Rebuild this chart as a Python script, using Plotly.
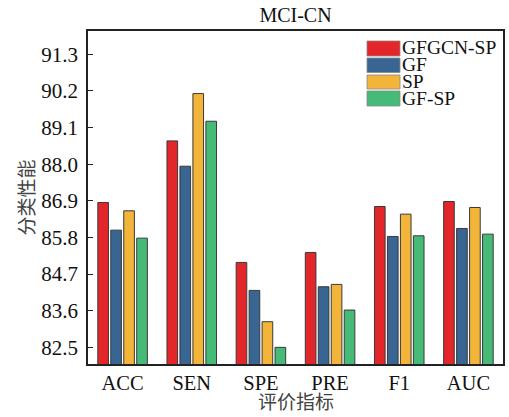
import plotly.graph_objects as go

categories = ["ACC", "SEN", "SPE", "PRE", "F1", "AUC"]
series_names = ["GFGCN-SP", "GF", "SP", "GF-SP"]
gfgcn_sp = [86.85, 88.70, 85.05, 85.35, 86.73, 86.88]
gf = [86.02, 87.94, 84.21, 84.32, 85.83, 86.07]
sp = [86.60, 90.12, 83.27, 84.39, 86.50, 86.70]
gf_sp = [85.78, 89.29, 82.50, 83.62, 85.85, 85.90]
y_ticks = [82.5, 83.6, 84.7, 85.8, 86.9, 88.0, 89.1, 90.2, 91.3]
y_tick_labels = ["82.5", "83.6", "84.7", "85.8", "86.9", "88.0", "89.1", "90.2", "91.3"]
colors = ["#E3262A", "#386592", "#F2B53A", "#46BA77"]

all_series = [gfgcn_sp, gf, sp, gf_sp]

SERIF = "Liberation Serif, Times New Roman, serif"
CJK = "Liberation Serif, Noto Sans CJK SC, serif"

fig = go.Figure()
for name, vals, col in zip(series_names, all_series, colors):
    fig.add_trace(go.Bar(
        x=categories, y=vals, name=name,
        marker=dict(color=col, line=dict(color="#3a3a3a", width=1)),
        showlegend=False,
    ))

L, R, T, B = 88, 6, 31, 53
W, H = 509, 417
pw, ph = W - L - R, H - T - B

def px_to_paper(x, y):
    return (x - L) / pw, (H - B - y) / ph

# manual legend
rows = [(41, 56), (58, 72.5), (75, 89), (91, 106)]
for (y0, y1), name, col in zip(rows, series_names, colors):
    ax0, ay0 = px_to_paper(367, y1)
    ax1, ay1 = px_to_paper(400, y0)
    fig.add_shape(type="rect", xref="paper", yref="paper",
                  x0=ax0, x1=ax1, y0=ay0, y1=ay1,
                  fillcolor=col, line=dict(color="#888888", width=0.8))
    tx, ty = px_to_paper(400.5, (y0 + y1) / 2 - 0.5)
    fig.add_annotation(xref="paper", yref="paper", x=tx, y=ty,
                       text=name, showarrow=False, xanchor="left", yanchor="middle",
                       borderpad=0,
                       font=dict(family=SERIF, size=19.5, color="#111111"))

# axis titles as annotations for precise placement
xt, yt = px_to_paper(L + pw / 2, 403)
fig.add_annotation(xref="paper", yref="paper", x=xt, y=yt, text="评价指标",
                   showarrow=False, xanchor="center", yanchor="middle",
                   font=dict(family=CJK, size=19, color="#444444"))
xt, yt = px_to_paper(27, T + ph / 2)
fig.add_annotation(xref="paper", yref="paper", x=xt, y=yt, text="分类性能",
                   showarrow=False, xanchor="center", yanchor="middle", textangle=-90,
                   font=dict(family=CJK, size=19, color="#444444"))

fig.update_layout(
    width=W, height=H,
    margin=dict(l=L, r=R, t=T, b=B, pad=0, autoexpand=False),
    paper_bgcolor="white", plot_bgcolor="white",
    barmode="group", bargap=0.25, bargroupgap=0.18,
    title=dict(text="MCI-CN", x=(L + pw / 2) / W, xanchor="center",
               y=1 - 15 / H, yanchor="middle",
               font=dict(family=SERIF, size=20, color="#111111")),
    xaxis=dict(
        showline=True, linecolor="#222222", linewidth=1.5, mirror=True,
        ticks="", showgrid=False, range=[-0.5, 5.5], automargin=False,
        tickfont=dict(family=SERIF, size=20.5, color="#111111"),
    ),
    yaxis=dict(
        range=[82.0, 92.0], automargin=False,
        tickmode="array", tickvals=y_ticks, ticktext=y_tick_labels,
        showline=True, linecolor="#222222", linewidth=1.5, mirror=True,
        ticks="inside", ticklen=5, tickwidth=1.2, tickcolor="#222222",
        ticklabelstandoff=4,
        showgrid=False, zeroline=False,
        tickfont=dict(family=SERIF, size=21, color="#111111"),
    ),
)

fig.write_html("out.html", config={"displayModeBar": False},
               post_script="document.body.style.margin='0';document.body.style.padding='0';")
